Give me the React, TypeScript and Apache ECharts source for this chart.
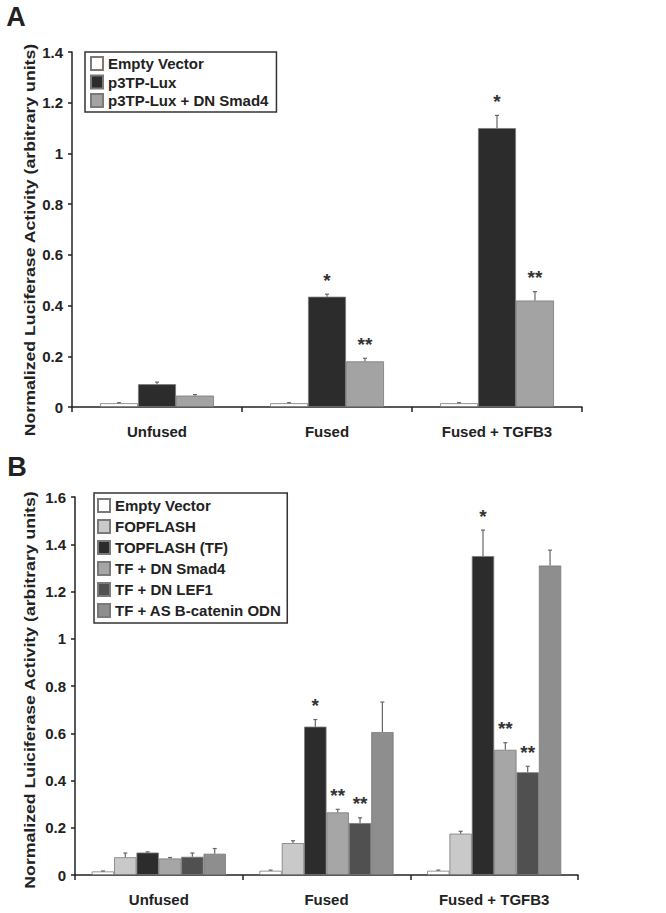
import React, { useEffect, useRef } from "react";
import * as echarts from "echarts";

const categories = ["Unfused", "Fused", "Fused + TGFB3"];

// Panel A
const aNames = ["Empty Vector", "p3TP-Lux", "p3TP-Lux + DN Smad4"];
const aEmpty = [0.015, 0.015, 0.015];
const aEmptyErr = [0.002, 0.002, 0.002];
const aP3TP = [0.09, 0.435, 1.1];
const aP3TPErr = [0.008, 0.01, 0.05];
const aDN = [0.045, 0.18, 0.42];
const aDNErr = [0.004, 0.012, 0.035];
const aStars = [["", "", ""], ["", "*", "*"], ["", "**", "**"]];
const aTicks = { min: 0, max: 1.4, interval: 0.2 };

// Panel B
const bNames = [
  "Empty Vector",
  "FOPFLASH",
  "TOPFLASH (TF)",
  "TF + DN Smad4",
  "TF + DN LEF1",
  "TF + AS B-catenin ODN",
];
const bEmpty = [0.015, 0.018, 0.018];
const bEmptyErr = [0.002, 0.003, 0.003];
const bFOP = [0.075, 0.135, 0.175];
const bFOPErr = [0.018, 0.01, 0.01];
const bTOP = [0.095, 0.628, 1.35];
const bTOPErr = [0.003, 0.03, 0.11];
const bSmad4 = [0.07, 0.265, 0.53];
const bSmad4Err = [0.004, 0.013, 0.03];
const bLEF1 = [0.077, 0.22, 0.435];
const bLEF1Err = [0.016, 0.022, 0.025];
const bODN = [0.09, 0.605, 1.31];
const bODNErr = [0.022, 0.127, 0.065];
const bStars = [
  ["", "", ""],
  ["", "", ""],
  ["", "*", "*"],
  ["", "**", "**"],
  ["", "**", "**"],
  ["", "", ""],
];
const bTicks = { min: 0, max: 1.6, interval: 0.2 };

const aColors = ["#ffffff", "#2c2c2c", "#a3a3a3"];
const bColors = ["#ffffff", "#c9c9c9", "#2c2c2c", "#a6a6a6", "#505050", "#8e8e8e"];

const FONT = '"Liberation Sans", Arial, sans-serif';
const TXT = "#222";

function buildPanel(
  gridIndex: number,
  names: string[],
  values: number[][],
  errs: number[][],
  stars: string[][],
  colors: string[],
  gap: number
) {
  const n = names.length;
  const series: any[] = [];
  names.forEach((name, i) => {
    series.push({
      type: "bar",
      name,
      xAxisIndex: gridIndex,
      yAxisIndex: gridIndex,
      data: values[i],
      barGap: "0%",
      barCategoryGap: gap * 100 + "%",
      itemStyle: { color: colors[i], borderColor: "#7a7a7a", borderWidth: 0.8 },
      z: 2,
    });
  });
  names.forEach((name, i) => {
    series.push({
      type: "custom",
      name: "err-" + gridIndex + "-" + i,
      xAxisIndex: gridIndex,
      yAxisIndex: gridIndex,
      z: 4,
      data: values[i].map((v, k) => [k, v, errs[i][k]]),
      renderItem: (params: any, api: any) => {
        const cat = api.value(0);
        const v = api.value(1);
        const e = api.value(2);
        const base = api.coord([cat, v]);
        const top = api.coord([cat, v + e]);
        const band = api.size([1, 0])[0];
        const w = (band * (1 - gap)) / n;
        const x = base[0] + (i - (n - 1) / 2) * w;
        const star = stars[i][params.dataIndex];
        const children: any[] = [
          {
            type: "line",
            shape: { x1: x, y1: base[1], x2: x, y2: top[1] },
            style: { stroke: "#666", lineWidth: 1.2 },
          },
          {
            type: "line",
            shape: { x1: x - 2, y1: top[1], x2: x + 2, y2: top[1] },
            style: { stroke: "#666", lineWidth: 1.2 },
          },
        ];
        if (star) {
          children.push({
            type: "text",
            x: x,
            y: top[1] - 14,
            style: {
              text: star,
              fill: "#333",
              font: "bold 19px " + FONT,
              textAlign: "center",
              textVerticalAlign: "middle",
              align: "center",
              verticalAlign: "middle",
            },
          });
        }
        return { type: "group", children };
      },
    });
  });
  return series;
}

export default function App() {
  const ref = useRef<HTMLDivElement>(null);
  useEffect(() => {
    if (!ref.current) return;
    const chart = echarts.init(ref.current, undefined, { renderer: "svg" });

    const axisLine = { show: true, lineStyle: { color: "#222", width: 1.5 } };
    const mkX = (gi: number) => ({
      type: "category",
      gridIndex: gi,
      data: categories,
      axisLine,
      axisTick: { show: true, length: 5, lineStyle: { color: "#222", width: 1.5 } },
      axisLabel: { color: TXT, fontFamily: FONT, fontWeight: "bold", fontSize: 15, margin: 17 },
      splitLine: { show: false },
    });
    const mkY = (gi: number, t: any) => ({
      type: "value",
      gridIndex: gi,
      min: t.min,
      max: t.max,
      interval: t.interval,
      axisLine,
      axisTick: { show: true, length: 4, lineStyle: { color: "#222", width: 1.5 } },
      axisLabel: { color: TXT, fontFamily: FONT, fontWeight: "bold", fontSize: 15, margin: 9 },
      splitLine: { show: false },
    });

    const legendText = { color: TXT, fontFamily: FONT, fontWeight: "bold", fontSize: 15 };

    const option: any = {
      animation: false,
      backgroundColor: "#ffffff",
      grid: [
        { left: 72, top: 52, width: 510, height: 355 },
        { left: 75, top: 497, width: 503, height: 378 },
      ],
      xAxis: [mkX(0), mkX(1)],
      yAxis: [mkY(0, aTicks), mkY(1, bTicks)],
      legend: [
        {
          data: aNames,
          orient: "vertical",
          left: 85,
          top: 52,
          icon: "rect",
          itemWidth: 12,
          itemHeight: 13,
          itemGap: 3.5,
          itemTextGap: 5,
          padding: [4, 8, 4, 5],
          borderColor: "#333",
          borderWidth: 1.5,
          textStyle: legendText,
          selectedMode: false,
        },
        {
          data: bNames,
          orient: "vertical",
          left: 94,
          top: 493,
          icon: "rect",
          itemWidth: 12,
          itemHeight: 13,
          itemGap: 6,
          itemTextGap: 5,
          padding: [5, 6, 5, 3],
          borderColor: "#333",
          borderWidth: 1.5,
          textStyle: legendText,
          selectedMode: false,
        },
      ],
      graphic: [
        {
          type: "text",
          x: 16,
          y: 17,
          style: {
            text: "A",
            font: "bold 27px " + FONT,
            fill: "#222",
            textAlign: "center",
            textVerticalAlign: "middle",
          },
        },
        {
          type: "text",
          x: 17,
          y: 467,
          style: {
            text: "B",
            font: "bold 27px " + FONT,
            fill: "#222",
            textAlign: "center",
            textVerticalAlign: "middle",
          },
        },
        {
          type: "text",
          x: 30,
          y: 240,
          rotation: Math.PI / 2,
          scaleX: 1.18,
          style: {
            text: "Normalized Luciferase Activity (arbitrary units)",
            font: "bold 15px " + FONT,
            fill: "#222",
            textAlign: "center",
            textVerticalAlign: "middle",
          },
        },
        {
          type: "text",
          x: 30,
          y: 690,
          rotation: Math.PI / 2,
          scaleX: 1.18,
          style: {
            text: "Normalized Luiciferase Activity (arbitrary units)",
            font: "bold 15px " + FONT,
            fill: "#222",
            textAlign: "center",
            textVerticalAlign: "middle",
          },
        },
      ],
      series: [
        ...buildPanel(
          0,
          aNames,
          [aEmpty, aP3TP, aDN],
          [aEmptyErr, aP3TPErr, aDNErr],
          aStars,
          aColors,
          0.33
        ),
        ...buildPanel(
          1,
          bNames,
          [bEmpty, bFOP, bTOP, bSmad4, bLEF1, bODN],
          [bEmptyErr, bFOPErr, bTOPErr, bSmad4Err, bLEF1Err, bODNErr],
          bStars,
          bColors,
          0.2
        ),
      ],
    };
    chart.setOption(option);
    return () => chart.dispose();
  }, []);
  return (
    <div
      ref={ref}
      style={{ position: "absolute", left: 0, top: 0, width: 666, height: 913, background: "#fff" }}
    />
  );
}
